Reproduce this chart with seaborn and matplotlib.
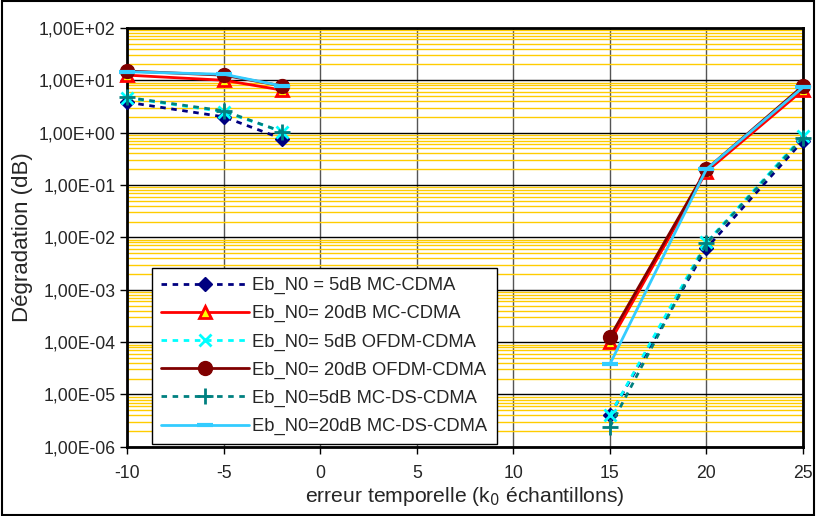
import numpy as np
import pandas as pd
import matplotlib
matplotlib.use("Agg")
import matplotlib.pyplot as plt
import seaborn as sns
from matplotlib.ticker import LogLocator, FuncFormatter, FixedLocator

# data (two branches per curve: left and right)
x_left = [-10, -5, -2]
x_right = [15, 20, 25]

labels = ["Eb_N0 = 5dB MC-CDMA", "Eb_N0= 20dB MC-CDMA", "Eb_N0= 5dB OFDM-CDMA",
          "Eb_N0= 20dB OFDM-CDMA", "Eb_N0=5dB MC-DS-CDMA", "Eb_N0=20dB MC-DS-CDMA"]

mc5_left = [3.8, 2.0, 0.77]
mc5_right = [4.0e-6, 6.2e-3, 0.7]
mc20_left = [12.5, 10.0, 6.5]
mc20_right = [1.0e-4, 0.18, 6.5]
ofdm5_left = [4.6, 2.5, 1.05]
ofdm5_right = [4.0e-6, 8.0e-3, 0.85]
ofdm20_left = [15.0, 12.5, 7.8]
ofdm20_right = [1.25e-4, 0.2, 7.8]
ds5_left = [4.7, 2.6, 1.05]
ds5_right = [2.4e-6, 7.7e-3, 0.8]
ds20_left = [14.5, 13.0, 7.8]
ds20_right = [3.8e-5, 0.2, 7.3]

lefts = [mc5_left, mc20_left, ofdm5_left, ofdm20_left, ds5_left, ds20_left]
rights = [mc5_right, mc20_right, ofdm5_right, ofdm20_right, ds5_right, ds20_right]

styles = [
    dict(color="#000080", ls=(0, (2, 2)), marker="D", mfc="#000080", mec="#000080", ms=7, mew=1),
    dict(color="#FF0000", ls="-", marker="^", mfc="#FFFF00", mec="#FF0000", ms=8, mew=2),
    dict(color="#00FFFF", ls=(0, (2, 2)), marker="x", mfc="#00FFFF", mec="#00FFFF", ms=9, mew=2),
    dict(color="#800000", ls="-", marker="o", mfc="#800000", mec="#800000", ms=10, mew=1),
    dict(color="#008080", ls=(0, (2, 2)), marker="+", mfc="#008080", mec="#008080", ms=11, mew=2),
    dict(color="#33CCFF", ls="-", marker="_", mfc="#33CCFF", mec="#33CCFF", ms=12, mew=3),
]

rows = []
for lab, l, r in zip(labels, lefts, rights):
    for xv, yv in zip(x_left, l):
        rows.append((lab, "left", xv, yv))
    for xv, yv in zip(x_right, r):
        rows.append((lab, "right", xv, yv))
df = pd.DataFrame(rows, columns=["serie", "seg", "k0", "deg"])

sns.set_style("white")
plt.rcParams["font.family"] = ["Liberation Sans", "DejaVu Sans"]
plt.rcParams["axes.unicode_minus"] = False

fig = plt.figure(figsize=(8.16, 5.16), dpi=100)
ax = fig.add_axes([0.156, 0.134, 0.828, 0.812])

for lab, st in zip(labels, styles):
    sub = df[df["serie"] == lab]
    for seg in ["left", "right"]:
        d = sub[sub["seg"] == seg]
        sns.lineplot(data=d, x="k0", y="deg", ax=ax, color=st["color"], linestyle=st["ls"],
                     lw=2, marker=st["marker"], markerfacecolor=st["mfc"],
                     markeredgecolor=st["mec"], markersize=st["ms"], markeredgewidth=st["mew"],
                     label=lab if seg == "left" else "_nolegend_", zorder=3, clip_on=False)

ax.set_yscale("log")
ax.set_ylim(1e-6, 1e2)
ax.set_xlim(-10, 25)
ax.xaxis.set_major_locator(FixedLocator(np.arange(-10, 26, 5)))
ax.yaxis.set_major_locator(LogLocator(base=10, numticks=20))
ax.yaxis.set_minor_locator(LogLocator(base=10, subs=np.arange(2, 10), numticks=20))
ax.yaxis.set_major_formatter(FuncFormatter(lambda v, p: ("%.2E" % v).replace(".", ",")))
ax.yaxis.set_minor_formatter(FuncFormatter(lambda v, p: ""))

ax.grid(True, which="minor", axis="y", color="#FFCC00", lw=1, zorder=0)
ax.grid(True, which="major", axis="y", color="black", lw=1, zorder=1)
ax.grid(True, which="major", axis="x", color="#555555", lw=1, zorder=1)
ax.set_axisbelow(True)

ax.tick_params(axis="both", which="major", labelsize=12.7, direction="out", length=5,
               width=1, color="black", left=True, bottom=True)
ax.tick_params(axis="x", which="major", pad=8)
ax.tick_params(axis="y", which="minor", length=0)
for s in ax.spines.values():
    s.set_color("black")
    s.set_linewidth(2)

ax.set_xlabel("erreur temporelle (k$_0$ échantillons)", fontsize=15.2, labelpad=2)
ax.set_ylabel("Dégradation (dB)", fontsize=16, labelpad=4)

leg = ax.legend(loc="upper left", bbox_to_anchor=(0.037, 0.427), borderaxespad=0,
                fontsize=13.2, handlelength=4.8, frameon=True, fancybox=False,
                framealpha=1, edgecolor="black", labelspacing=0.6, borderpad=0.5,
                handletextpad=0.15)
leg.get_frame().set_linewidth(1)

fig.patches.append(plt.Rectangle((0.002, 0.002), 0.996, 0.996, transform=fig.transFigure,
                                 fill=False, edgecolor="black", lw=1.5))

fig.savefig("out.png", dpi=100)
